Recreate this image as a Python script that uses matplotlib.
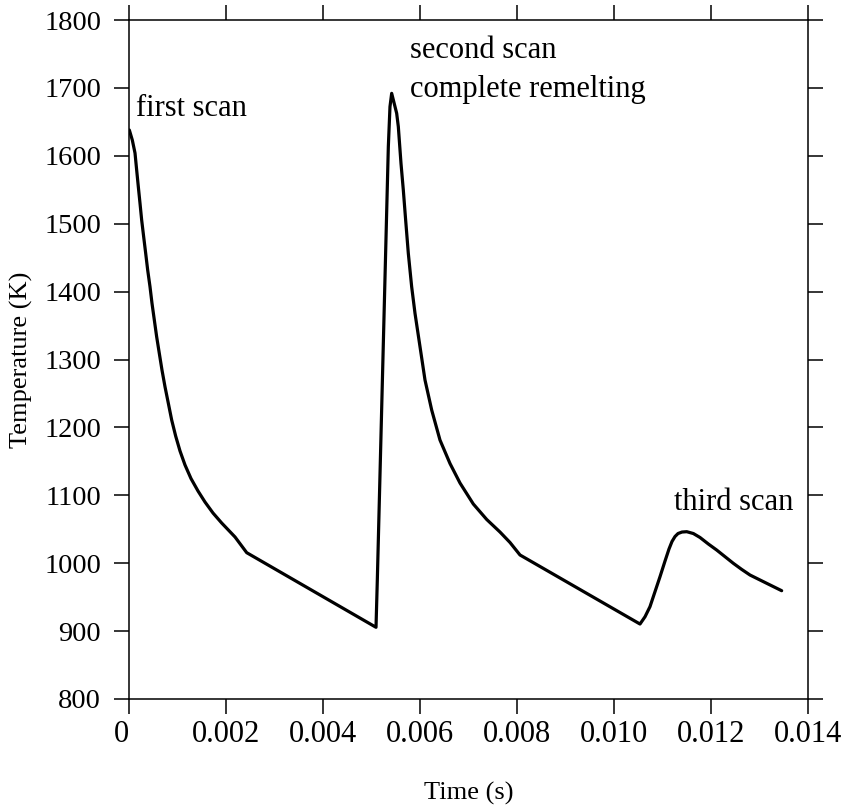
import matplotlib
matplotlib.use("Agg")
import matplotlib.pyplot as plt

plt.rcParams['font.family'] = ['Liberation Serif', 'DejaVu Serif']
plt.rcParams['mathtext.fontset'] = 'stix'

time_s = [0.0, 0.0000069, 0.0000687, 0.000124, 0.000158, 0.000192, 0.000227, 0.000261,
          0.000302, 0.000344, 0.000385, 0.000433, 0.000474, 0.000522, 0.000570,
          0.000625, 0.000680, 0.000742, 0.000811, 0.000880, 0.000962, 0.001052,
          0.001155, 0.001278, 0.001423, 0.001567, 0.001732, 0.001911, 0.002186,
          0.002427,
          0.005093,
          0.00512, 0.005347, 0.005381, 0.005416, 0.005519, 0.005553, 0.005608,
          0.005656, 0.005704, 0.005759, 0.005828, 0.005897, 0.006, 0.006103,
          0.006241, 0.006412, 0.0066186, 0.0068247, 0.007099, 0.0073753, 0.0076495,
          0.0078557, 0.0080619,
          0.010536, 0.01064, 0.010742, 0.010845, 0.010948, 0.011052, 0.011134,
          0.011196, 0.011258, 0.01132, 0.011402, 0.0115, 0.011636, 0.011773,
          0.011945, 0.012117, 0.012289, 0.012461, 0.012632, 0.012804, 0.013148,
          0.013457]
temp_K = [1634, 1638, 1623, 1604, 1579, 1554.5, 1530, 1505.5,
          1481, 1456.4, 1431.8, 1407.2, 1382.8, 1358.2, 1333.6,
          1309, 1284.5, 1260, 1235.5, 1210.9, 1187.3, 1165.2,
          1144.6, 1124.7, 1106.3, 1090.1, 1073.9, 1059.2, 1038.6,
          1015.5,
          905.6,
          975.3, 1613.4, 1672.3, 1692, 1662.6, 1642.9, 1588.9,
          1549.6, 1505.5, 1456.4, 1407.2, 1368, 1318.9, 1269.8,
          1225.6, 1181.4, 1146.8, 1118.1, 1087.2, 1064.4, 1045.9,
          1030.5, 1012.1,
          910.4, 921.2, 936, 958, 980, 1003.2, 1020.9,
          1032.0, 1039.3, 1043.7, 1045.9, 1046.4, 1043.7, 1037.9,
          1028.3, 1019.4, 1009.6, 999.8, 990.9, 982.6, 970.4,
          959.5]

xticks = [0, 0.002, 0.004, 0.006, 0.008, 0.010, 0.012, 0.014]
xticklabels = ['0', '0.002', '0.004', '0.006', '0.008', '0.010', '0.012', '0.014']
yticks = [800, 900, 1000, 1100, 1200, 1300, 1400, 1500, 1600, 1700, 1800]

fig = plt.figure(figsize=(8.41, 8.09), dpi=100)
ax = fig.add_axes([129/841, 1 - 699/809, (808-129)/841, (699-20)/809])

ax.plot(time_s, temp_K, color='black', lw=2.3, solid_joinstyle='round',
        solid_capstyle='round')

ax.set_xlim(0, 0.014)
ax.set_ylim(800, 1800)
ax.set_xticks(xticks)
ax.set_xticklabels(xticklabels)
ax.set_yticks(yticks)

ax.tick_params(axis='both', which='both', direction='out', length=11, width=1.1,
               top=True, right=True)
ax.tick_params(axis='x', pad=4, labelsize=22)
ax.tick_params(axis='y', pad=9, labelsize=20.5)
ax.get_xticklabels()[0].set_horizontalalignment('right')
for s in ax.spines.values():
    s.set_linewidth(1.1)

ax.set_xlabel('Time (s)', fontsize=19, labelpad=24)
ax.set_ylabel('Temperature (K)', fontsize=19, labelpad=8)

ax.text(0.00014, 1648, 'first scan', fontsize=22, ha='left', va='bottom')
ax.text(0.00579, 1755, 'second scan', fontsize=22, ha='left', va='center')
ax.text(0.00579, 1697, 'complete remelting', fontsize=22, ha='left', va='center')
ax.text(0.01123, 1090, 'third scan', fontsize=22, ha='left', va='center')

fig.savefig('out.png', dpi=100)
